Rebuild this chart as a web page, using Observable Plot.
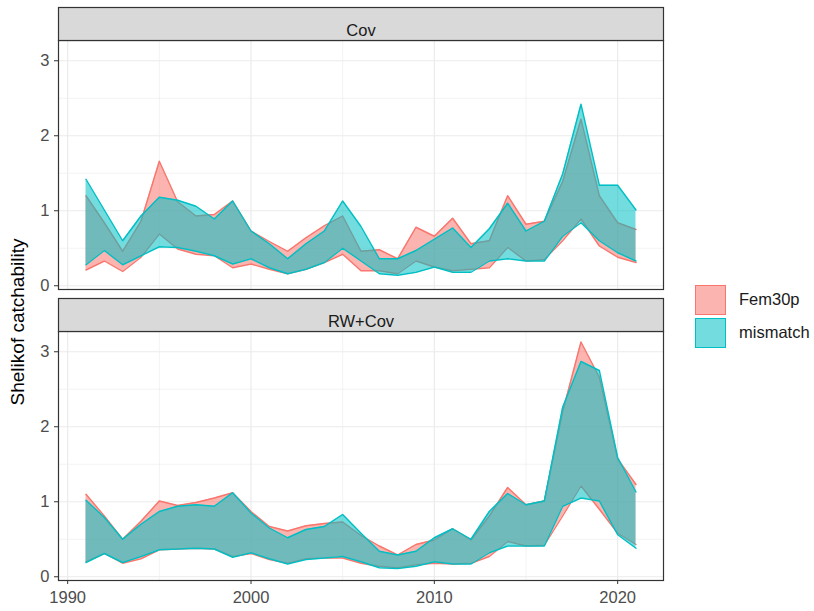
<!DOCTYPE html>
<html>
<head>
<meta charset="utf-8">
<script src="https://cdn.jsdelivr.net/npm/d3@7"></script>
<script src="https://cdn.jsdelivr.net/npm/@observablehq/plot@0.6"></script>
<style>
  html, body { margin: 0; padding: 0; background: #fff; }
  #wrap { position: relative; width: 814px; height: 611px; font-family: "Liberation Sans", Arial, sans-serif; }
  #chart { position: absolute; left: 0; top: 0; }
  #ytitle { position: absolute; left: 18px; top: 322px; transform: translate(-50%, -50%) rotate(-90deg); font-size: 19px; color: #000; white-space: nowrap; }
  #legend { position: absolute; left: 695px; top: 283px; }
  .lrow { display: flex; align-items: center; height: 33px; }
  .lkey { width: 29px; height: 28px; box-sizing: content-box; border-width: 1.5px; border-style: solid; margin-right: 13px; }
  .ltxt { font-size: 16.5px; color: #1A1A1A; }
</style>
</head>
<body>
<div id="wrap">
  <div id="chart"></div>
  <div id="ytitle">Shelikof catchability</div>
  <div id="legend"></div>
</div>
<script>
// ---------- data ----------
const years = [1991,1992,1993,1994,1995,1996,1997,1998,1999,2000,2001,2002,2003,2004,2005,2006,2007,2008,2009,2010,2011,2012,2013,2014,2015,2016,2017,2018,2019,2020,2021];
const panels = ["Cov", "RW+Cov"];
const models = ["Fem30p", "mismatch"];
const modelColors = ["#F8766D", "#00BFC4"];
const xTicks = [1990, 2000, 2010, 2020];
const xMinor = [1995, 2005, 2015];
const yTicks = [0, 1, 2, 3];
const yMinor = [0.5, 1.5, 2.5];
const yLabel = "Shelikof catchability";

// Cov panel
const covFemLo = [0.21,0.33,0.19,0.38,0.69,0.49,0.42,0.40,0.24,0.29,0.22,0.16,0.22,0.31,0.42,0.20,0.20,0.16,0.33,0.25,0.20,0.22,0.24,0.51,0.33,0.35,0.60,0.89,0.53,0.38,0.31];
const covFemHi = [1.20,0.84,0.46,0.86,1.66,1.12,0.93,0.95,1.13,0.73,0.59,0.46,0.64,0.80,0.93,0.46,0.48,0.36,0.78,0.66,0.90,0.56,0.60,1.20,0.82,0.86,1.39,2.22,1.20,0.84,0.75];
const covMisLo = [0.28,0.47,0.28,0.40,0.52,0.51,0.46,0.40,0.29,0.36,0.24,0.16,0.22,0.31,0.50,0.33,0.16,0.14,0.18,0.25,0.18,0.18,0.33,0.36,0.33,0.33,0.66,0.84,0.60,0.44,0.33];
const covMisHi = [1.42,1.01,0.60,0.93,1.18,1.14,1.06,0.89,1.13,0.73,0.56,0.36,0.56,0.73,1.13,0.79,0.36,0.36,0.47,0.62,0.77,0.51,0.76,1.10,0.73,0.86,1.49,2.42,1.34,1.34,1.01];

// RW+Cov panel
const rwFemLo = [0.20,0.31,0.18,0.24,0.36,0.37,0.38,0.37,0.27,0.31,0.23,0.18,0.24,0.25,0.25,0.18,0.14,0.12,0.16,0.18,0.17,0.18,0.27,0.47,0.41,0.42,0.81,1.21,0.90,0.58,0.43];
const rwFemHi = [1.10,0.81,0.50,0.74,1.01,0.95,0.99,1.05,1.12,0.87,0.67,0.61,0.68,0.71,0.73,0.55,0.41,0.29,0.43,0.49,0.64,0.49,0.81,1.19,0.96,1.01,2.20,3.13,2.66,1.57,1.23];
const rwMisLo = [0.19,0.31,0.19,0.27,0.36,0.37,0.38,0.37,0.26,0.32,0.24,0.17,0.23,0.25,0.27,0.20,0.12,0.11,0.14,0.20,0.17,0.17,0.32,0.41,0.41,0.41,0.94,1.05,1.01,0.56,0.38];
const rwMisHi = [1.02,0.79,0.50,0.70,0.87,0.94,0.96,0.94,1.12,0.85,0.65,0.52,0.63,0.67,0.83,0.58,0.34,0.29,0.34,0.52,0.64,0.50,0.87,1.11,0.96,1.01,2.26,2.87,2.75,1.59,1.13];

// ---------- tidy table ----------
const series = {
  "Cov":    {"Fem30p": [covFemLo, covFemHi], "mismatch": [covMisLo, covMisHi]},
  "RW+Cov": {"Fem30p": [rwFemLo, rwFemHi],   "mismatch": [rwMisLo, rwMisHi]}
};
const rows = [];
for (const p of panels) for (const m of models) {
  const [lo, hi] = series[p][m];
  years.forEach((yr, i) => rows.push({panel: p, model: m, year: yr, lo: lo[i], hi: hi[i]}));
}

// ---------- layout ----------
const W = 814, H = 611;
const mTop = 40, mBottom = 31, mLeft = 58, mRight = 151;
const gap = 42;                 // strip + spacing between panels
const stripH = 33;
const innerH = H - mTop - mBottom;
const panelH = (innerH - gap) / 2;
const padInner = gap / (panelH + gap);
const fillAlpha = 0.55;
const fs = 16.5;

const marks = [
  Plot.gridY({ticks: yMinor, stroke: "#EBEBEB", strokeOpacity: 1, strokeWidth: 0.6}),
  Plot.gridX({ticks: xMinor, stroke: "#EBEBEB", strokeOpacity: 1, strokeWidth: 0.6}),
  Plot.gridY({ticks: yTicks, stroke: "#EBEBEB", strokeOpacity: 1, strokeWidth: 1.2}),
  Plot.gridX({ticks: xTicks, stroke: "#EBEBEB", strokeOpacity: 1, strokeWidth: 1.2})
];
models.forEach((m, k) => {
  const f = d => d.model === m;
  marks.push(
    Plot.areaY(rows, {filter: f, x: "year", y1: "lo", y2: "hi", fy: "panel", fill: modelColors[k], fillOpacity: fillAlpha}),
    Plot.lineY(rows, {filter: f, x: "year", y: "hi", fy: "panel", stroke: modelColors[k], strokeWidth: 1.4}),
    Plot.lineY(rows, {filter: f, x: "year", y: "lo", fy: "panel", stroke: modelColors[k], strokeWidth: 1.4})
  );
});
marks.push(
  Plot.frame({stroke: "#333333", strokeWidth: 1.2}),
  Plot.frame({fill: "#D9D9D9", stroke: "#333333", strokeWidth: 1.2, insetTop: -stripH, insetBottom: panelH}),
  Plot.text(panels, {fy: d => d, text: d => d, frameAnchor: "top", dy: -stripH / 2, fontSize: fs, fill: "#1A1A1A"}),
  Plot.axisY({ticks: yTicks, tickFormat: d => String(d), tickSize: 4, tickPadding: 5, fontSize: fs, color: "#4D4D4D", stroke: "#333333", label: null}),
  Plot.axisX({ticks: xTicks, tickFormat: d => String(d), tickSize: 4, tickPadding: 7, fontSize: fs, color: "#4D4D4D", stroke: "#333333", label: null})
);

const chart = Plot.plot({
  width: W, height: H,
  marginTop: mTop, marginBottom: mBottom, marginLeft: mLeft, marginRight: mRight,
  style: {fontFamily: "'Liberation Sans', Arial, sans-serif", fontSize: fs + "px", background: "transparent", overflow: "visible"},
  x: {domain: [1989.5, 2022.5], label: null},
  y: {domain: [-0.05, 3.27], label: null},
  fy: {domain: panels, axis: null, label: null, paddingInner: padInner, paddingOuter: 0, round: false},
  marks
});
document.getElementById("chart").appendChild(chart);

// ---------- legend ----------
const legend = document.getElementById("legend");
models.forEach((m, k) => {
  const c = d3.color(modelColors[k]);
  const row = document.createElement("div");
  row.className = "lrow";
  const key = document.createElement("div");
  key.className = "lkey";
  key.style.borderColor = modelColors[k];
  key.style.background = `rgba(${c.r},${c.g},${c.b},${fillAlpha})`;
  const txt = document.createElement("div");
  txt.className = "ltxt";
  txt.textContent = m;
  row.appendChild(key); row.appendChild(txt);
  legend.appendChild(row);
});
document.getElementById("ytitle").textContent = yLabel;
</script>
</body>
</html>
